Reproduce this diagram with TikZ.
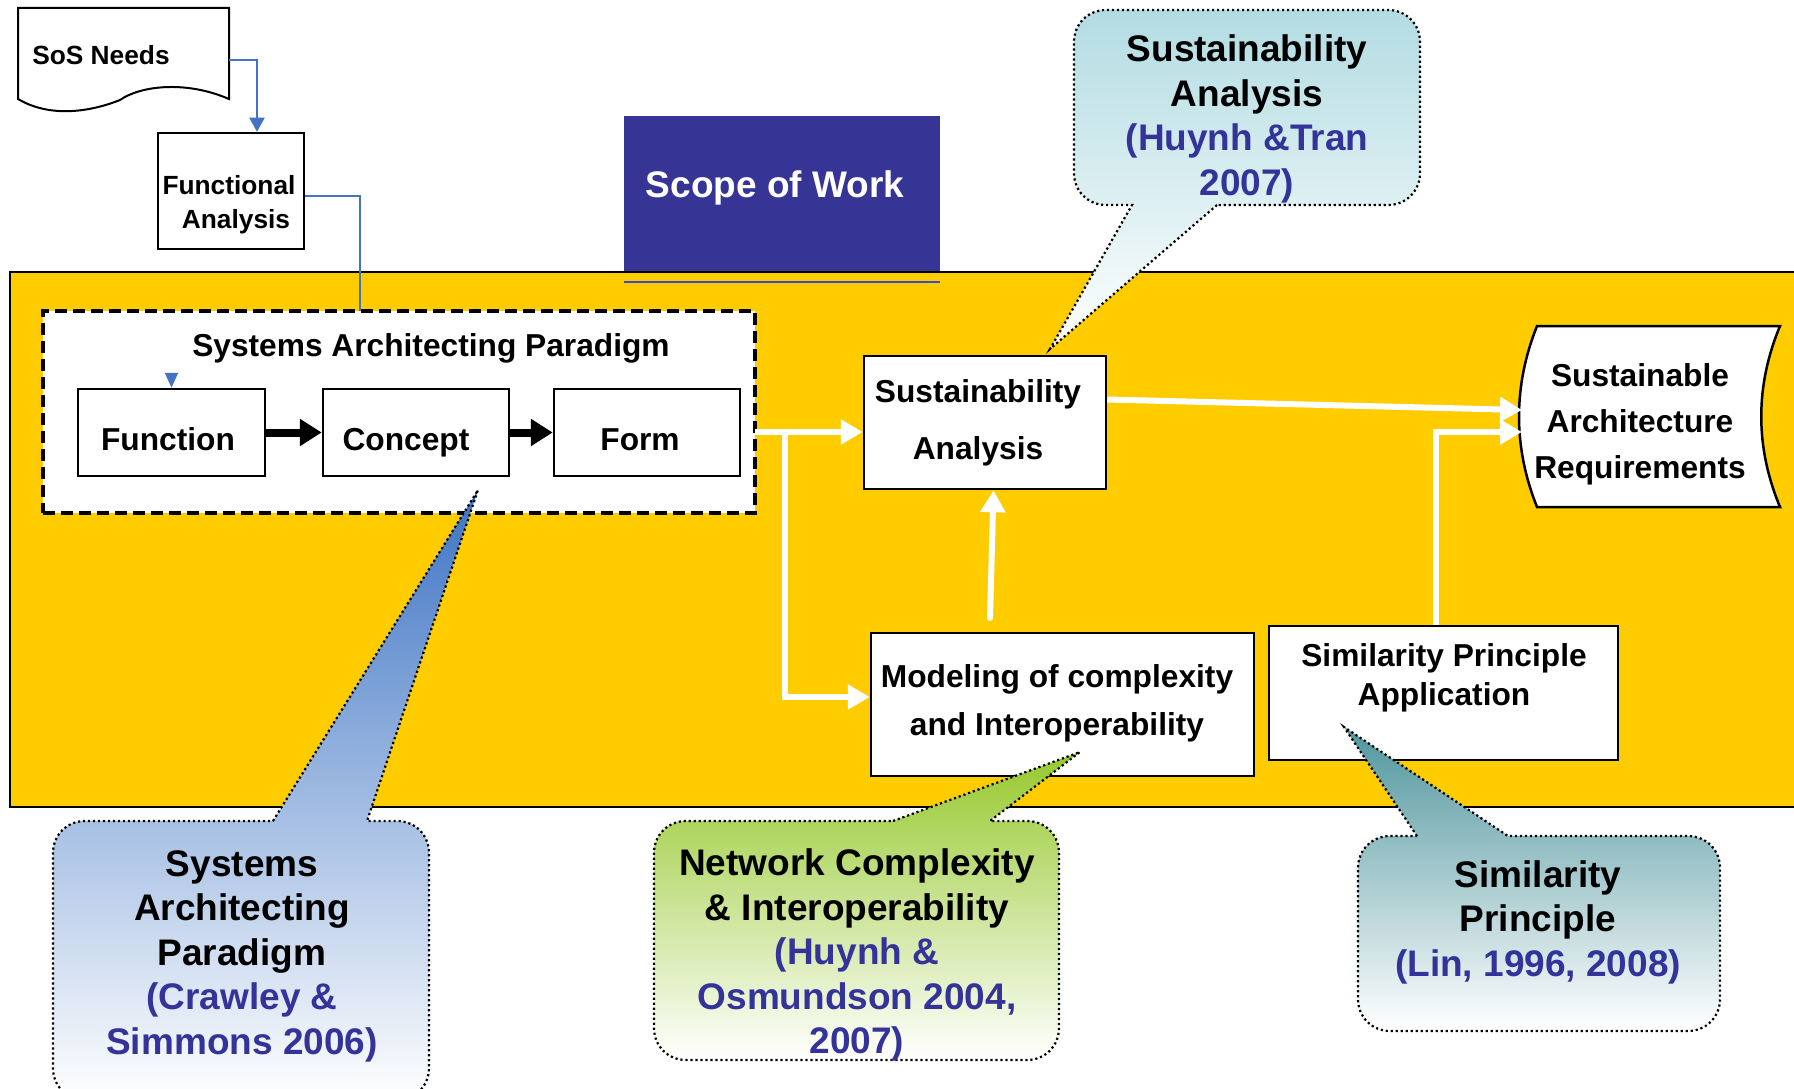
\documentclass[tikz,border=0pt]{standalone}
\usepackage{fontspec}
\setmainfont{Liberation Sans}
\usetikzlibrary{arrows.meta}
\definecolor{yel}{RGB}{255,204,0}
\definecolor{navy}{RGB}{54,53,150}
\definecolor{cite}{RGB}{51,51,153}
\definecolor{bl}{RGB}{68,114,196}
\definecolor{thinbl}{RGB}{63,72,204}
\definecolor{cteal}{RGB}{178,220,226}
\definecolor{cblue}{RGB}{62,116,196}
\definecolor{cgreen}{RGB}{150,200,45}
\definecolor{cdteal}{RGB}{80,150,158}
% callout with pointer base on the top edge
\newcommand{\calloutT}[9]{%
 \path[callout,#9] (#5,#2) -- (#7,#8) -- (#6,#2) -- ({#3-32},#2) .. controls ({#3-14},#2) and (#3,{#2+14}) .. (#3,{#2+32}) -- (#3,{#4-32}) .. controls (#3,{#4-14}) and ({#3-14},#4) .. ({#3-32},#4) -- ({#1+32},#4) .. controls ({#1+14},#4) and (#1,{#4-14}) .. (#1,{#4-32}) -- (#1,{#2+32}) .. controls (#1,{#2+14}) and ({#1+14},#2) .. ({#1+32},#2) -- cycle;}
% callout with pointer base on the bottom edge
\newcommand{\calloutB}[9]{%
 \path[callout,#9] (#6,#4) -- (#7,#8) -- (#5,#4) -- ({#1+32},#4) .. controls ({#1+14},#4) and (#1,{#4-14}) .. (#1,{#4-32}) -- (#1,{#2+32}) .. controls (#1,{#2+14}) and ({#1+14},#2) .. ({#1+32},#2) -- ({#3-32},#2) .. controls ({#3-14},#2) and (#3,{#2+14}) .. (#3,{#2+32}) -- (#3,{#4-32}) .. controls (#3,{#4-14}) and ({#3-14},#4) .. ({#3-32},#4) -- cycle;}
\begin{document}
\begin{tikzpicture}[x=1pt,y=-1pt,
  box/.style={draw=black, line width=2.5pt, fill=white, inner sep=0pt},
  lbl/.style={align=center, inner sep=0pt, text=black},
  inner/.style={font=\fontsize{31.7}{38}\selectfont\bfseries},
  big/.style={font=\fontsize{37}{44.5}\selectfont\bfseries},
  bline/.style={draw=bl, line width=2pt},
  warrow/.style={draw=white, line width=6pt, -{Triangle[length=22pt,width=24pt]}},
  karrow/.style={draw=black, line width=8pt, -{Triangle[length=22pt,width=26pt]}},
  callout/.style={draw=black, line width=2.2pt, dash pattern=on 2.2pt off 2.8pt, shade, bottom color=white}]
\useasboundingbox (0,0) rectangle (1794,1089);
\clip (0,0) rectangle (1794,1089);
\fill[white] (0,0) rectangle (1794,1089);

% Scope of work and the yellow area
\node[fill=navy, minimum width=316pt, minimum height=156pt, inner sep=0pt] (scope) at (782,194) {};
\path[fill=yel, draw=black, line width=2.5pt] (10,272) rectangle (1805,807);
\draw[draw=thinbl, line width=1.5pt] (624,282) -- (940,282);
\node[lbl, anchor=base, text=white, font=\fontsize{37}{44}\selectfont\bfseries] (scopetxt) at (775,197) {Scope of Work};

% SoS needs (document shape)
\draw[line width=2pt, fill=white] (18,8) -- (229,8) -- (229,99) .. controls (185,80) and (140,86) .. (120,100) .. controls (90,112) and (50,118) .. (18,99) -- cycle;
\node[lbl, font=\fontsize{26.3}{32}\selectfont\bfseries] (sos) at (101,55) {SoS Needs};
\coordinate (sosout) at (229,60);

% Functional analysis
\node[box, minimum width=146pt, minimum height=116pt] (fa) at (231,191) {};
\node[lbl, font=\fontsize{26.3}{37}\selectfont\bfseries] (fatxt1) at (229,185) {Functional};
\node[lbl, font=\fontsize{26.3}{37}\selectfont\bfseries] (fatxt2) at (236,222) {Analysis};
\coordinate (faend) at (360,311);
\draw[bline, -{Triangle[length=14pt,width=15pt]}] (sosout) -| ([xshift=26pt]fa.north);
\draw[bline] ([yshift=-5pt]fa.east) -| (faend);

% Systems architecting paradigm
\node[box, dash pattern=on 12pt off 6pt, line width=3.5pt, minimum width=712pt, minimum height=202pt] (sap) at (399,412) {};
\node[lbl, inner] (saptxt) at (431,348) {Systems Architecting Paradigm};
\node[box, minimum width=187pt, minimum height=87pt] (function) at (171.5,432.5) {};
\node[box, minimum width=186pt, minimum height=87pt] (concept) at (416,432.5) {};
\node[box, minimum width=186pt, minimum height=87pt] (form) at (647,432.5) {};
\node[lbl, inner, anchor=base] (functiontxt) at (168,450) {Function};
\node[lbl, inner, anchor=base] (concepttxt) at (406,450) {Concept};
\node[lbl, inner, anchor=base] (formtxt) at (640,450) {Form};
\draw[karrow] (function.east) -- (concept.west);
\draw[karrow] (concept.east) -- (form.west);
\draw[bline, -{Triangle[length=15pt,width=13pt]}] ([yshift=15pt]function.north) -- (function.north);

% Right part boxes
\node[box, minimum width=242pt, minimum height=133pt] (sa) at (985,422.5) {};
\node[lbl, font=\fontsize{31.7}{57}\selectfont\bfseries] (satxt) at (978,423) {Sustainability\\ Analysis};
\node[box, minimum width=383pt, minimum height=143pt] (model) at (1062.5,704.5) {};
\node[lbl, font=\fontsize{31.7}{48}\selectfont\bfseries] (modeltxt) at (1057,703) {Modeling of complexity\\ and Interoperability};
\node[box, minimum width=349pt, minimum height=134pt] (sim) at (1443.5,693) {};
\node[lbl, font=\fontsize{31.7}{39}\selectfont\bfseries] (simtxt) at (1444,678) {Similarity Principle\\ Application};
\draw[line width=2.5pt, fill=white] (1537,326) -- (1780,326) .. controls (1755,386) and (1755,447) .. (1780,507) -- (1537,507) .. controls (1513,447) and (1513,386) .. (1537,326) -- cycle;
\node[lbl, font=\fontsize{31.7}{46}\selectfont\bfseries] (sar) at (1640,424) {Sustainable\\ Architecture\\ Requirements};

% White connectors
\coordinate (s0) at (755,432);
\coordinate (s1) at (785,432);
\coordinate (m1) at (990,618);
\coordinate (sarin1) at (1522,410);
\coordinate (sarin2) at (1522,432);
\draw[warrow] (s0) -- (sa.west |- s0);
\draw[warrow] (s1) |- ([yshift=7.5pt]model.west);
\draw[warrow, line cap=round] (m1) -- ([xshift=8.5pt]sa.south);
\draw[warrow] ([yshift=23pt]sa.east) -- (sarin1);
\draw[warrow] ([xshift=-7.5pt]sim.north) |- (sarin2);

% Callouts
\calloutB{1074}{10}{1420}{205}{1132}{1217}{1050}{349}{top color=cteal}
\node[lbl, big] (c1) at (1247,119) {Sustainability\\ Analysis\\ \textcolor{cite}{(Huynh \&Tran}\\ \textcolor{cite}{2007)}};

\calloutT{53}{821}{429}{1100}{273}{367}{478}{490}{top color=cblue}
\node[lbl, big] (c2) at (242,956) {Systems\\ Architecting\\ Paradigm\\ \textcolor{cite}{(Crawley \&}\\ \textcolor{cite}{Simmons 2006)}};

\calloutT{654}{821}{1059}{1060}{893}{990}{1080}{752}{top color=cgreen}
\node[lbl, big] (c3) at (857,955) {Network Complexity\\ \& Interoperability\\ \textcolor{cite}{(Huynh \&}\\ \textcolor{cite}{Osmundson 2004,}\\ \textcolor{cite}{2007)}};

\calloutT{1358}{836}{1720}{1031}{1417}{1508}{1344}{727}{top color=cdteal}
\node[lbl, big] (c4) at (1538,922) {Similarity\\ Principle\\ \textcolor{cite}{(Lin, 1996, 2008)}};
\end{tikzpicture}
\end{document}
